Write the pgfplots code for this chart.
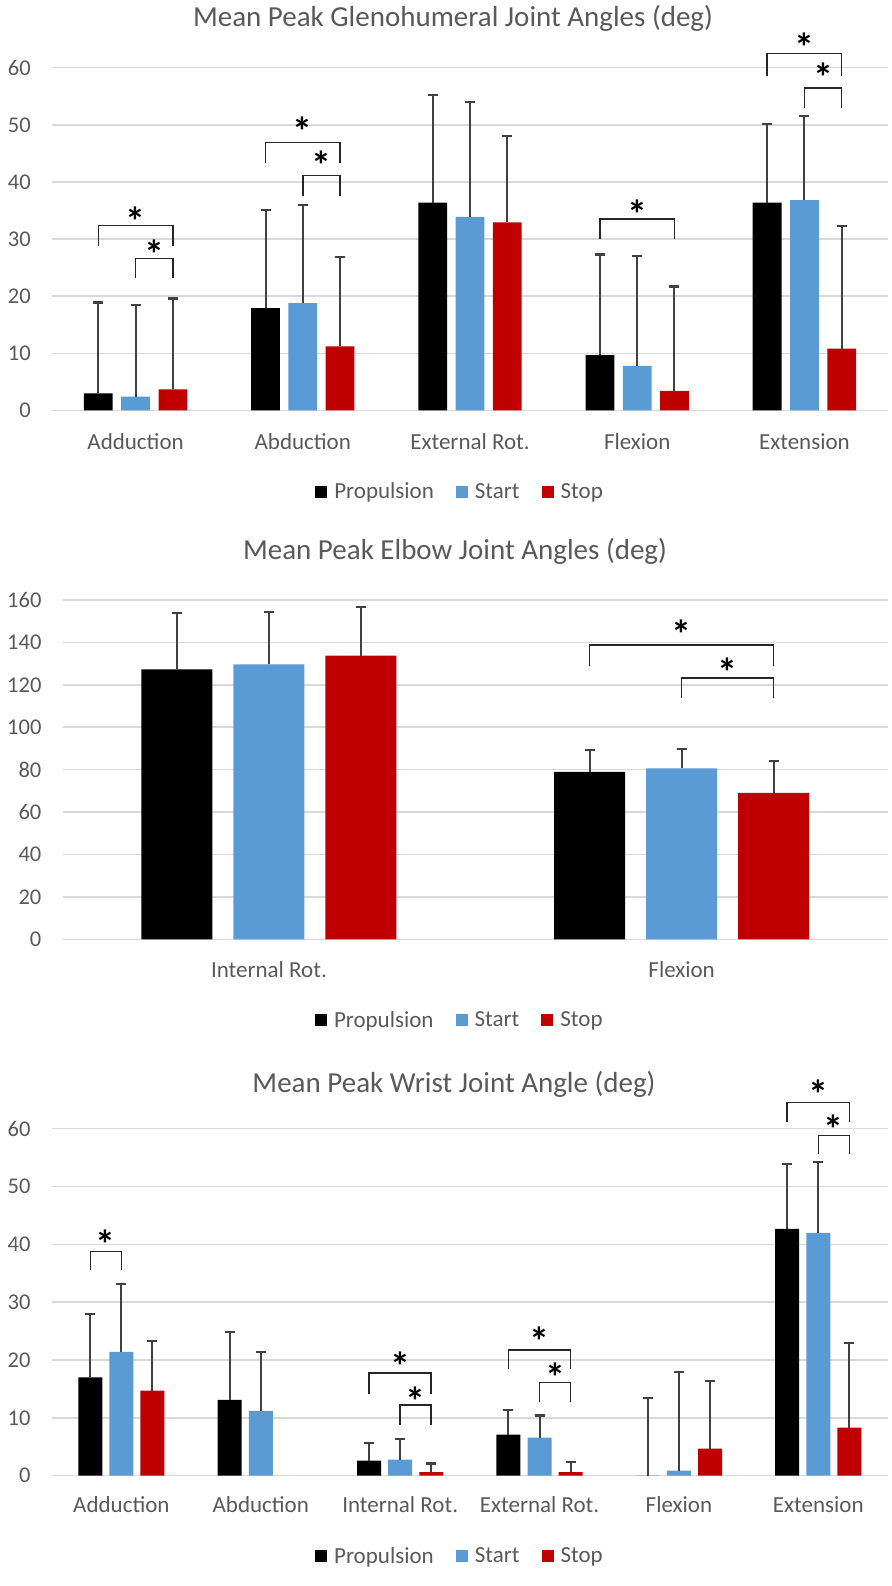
\documentclass[border=0pt]{standalone}
\usepackage{fontspec}
\setmainfont{Carlito}
\usepackage{pgfplots}
\pgfplotsset{compat=1.18}
\definecolor{gridgray}{HTML}{D9D9D9}
\definecolor{textgray}{HTML}{595959}
\definecolor{errgray}{HTML}{404040}
\definecolor{brkgray}{HTML}{262626}
\definecolor{sblue}{HTML}{5B9BD5}
\definecolor{sred}{HTML}{C00000}
\tikzset{brkstyle/.style={draw=brkgray, line width=1.6pt},
  starstyle/.style={font=\bfseries\fontsize{40}{40}\selectfont, text=black, anchor=base, yshift=-20pt, inner sep=0pt}}
\newcommand{\brk}[6]{%
  \draw[brkstyle] (axis cs:#1,#5) -- (axis cs:#1,#4) -- (axis cs:#2,#4) -- (axis cs:#2,#5);
  \node[starstyle] at (axis cs:#3,#6) {*};}
\pgfplotsset{
  jointstyle/.style={
    scale only axis, clip=false, ymin=0,
    /pgf/number format/assume math mode=true,
    axis line style={draw=none},
    major tick length=0pt,
    ymajorgrids, grid style={gridgray, line width=1.5pt},
    tick label style={font=\fontsize{22.5}{26}\selectfont, text=textgray},
    yticklabel style={anchor=east, inner sep=0pt, xshift=-21pt},
    xticklabel style={anchor=base, inner sep=0pt, font=\fontsize{23}{27}\selectfont},
    ybar, bar width=0.172,
    error bars/y dir=plus, error bars/y explicit,
    error bars/error bar style={errgray, line width=2pt},
    error bars/error mark options={rotate=90, errgray, mark size=5pt, line width=2.2pt},
    legend columns=3,
    legend style={draw=none, fill=none, font=\fontsize{23}{27}\selectfont, text=textgray,
      anchor=center, inner sep=0pt, nodes={inner sep=0pt},
      /tikz/every odd column/.style={column sep=7pt},
      /tikz/every even column/.style={column sep=22pt}},
    legend image code/.code={\fill[#1] (0pt,-6pt) rectangle (12pt,6pt);},
  },
  pbar/.style={fill=black, draw=none, bar shift=-0.223},
  sbar/.style={fill=sblue, draw=none, bar shift=0},
  tbar/.style={fill=sred, draw=none, bar shift=0.223},
}
\begin{document}
\begin{tikzpicture}
\useasboundingbox (0,0) rectangle (891pt,-1586pt);
\tikzset{ttl/.style={font=\fontsize{29}{33}\selectfont, text=textgray}}
\node[ttl] at (453pt,-18pt) {Mean Peak Glenohumeral Joint Angles (deg)};
\node[ttl] at (455pt,-551pt) {Mean Peak Elbow Joint Angles (deg)};
\node[ttl] at (454pt,-1084pt) {Mean Peak Wrist Joint Angle (deg)};

% ---------------- Panel 1 ----------------
\begin{axis}[jointstyle,
  at={(52pt,-410.4pt)}, anchor=south west, width=836pt, height=342.7pt,
  xmin=-0.5, xmax=4.5, ymax=60, ytick={0,10,...,60},
  xtick={0,1,2,3,4}, xticklabels={Adduction,Abduction,External Rot.,Flexion,Extension},
  xticklabel style={yshift=-38.7pt},
  legend style={at={(0.487,-0.237)}}]
\addplot[pbar] coordinates {(0,3.0)+-(0,15.9) (1,17.9)+-(0,17.2) (2,36.4)+-(0,18.8) (3,9.7)+-(0,17.6) (4,36.4)+-(0,13.7)};
\addplot[sbar] coordinates {(0,2.4)+-(0,16.1) (1,18.8)+-(0,17.2) (2,33.9)+-(0,20.1) (3,7.8)+-(0,19.3) (4,36.8)+-(0,14.8)};
\addplot[tbar] coordinates {(0,3.7)+-(0,15.9) (1,11.2)+-(0,15.7) (2,32.9)+-(0,15.2) (3,3.4)+-(0,18.3) (4,10.8)+-(0,21.5)};
\legend{Propulsion,Start,Stop}
\brk{-0.223}{0.223}{0}{32.4}{28.7}{34.2}
\brk{0}{0.223}{0.112}{26.6}{23.1}{28.4}
\brk{0.777}{1.223}{1}{46.9}{43.3}{49.8}
\brk{1}{1.223}{1.112}{41.1}{37.6}{43.9}
\brk{2.777}{3.223}{3}{33.5}{30.0}{35.4}
\brk{3.777}{4.223}{4}{62.5}{58.6}{64.6}
\brk{4}{4.223}{4.112}{56.4}{53.0}{59.3}
\end{axis}

% ---------------- Panel 2 ----------------
\begin{axis}[jointstyle,
  at={(62.6pt,-939.3pt)}, anchor=south west, width=825.4pt, height=339.3pt,
  xmin=-0.5, xmax=1.5, ymax=160, ytick={0,20,...,160},
  xtick={0,1}, xticklabels={Internal Rot.,Flexion},
  xticklabel style={yshift=-38pt},
  legend style={at={(0.480,-0.238)}}]
\addplot[pbar] coordinates {(0,127.3)+-(0,26.6) (1,78.9)+-(0,10.2)};
\addplot[sbar] coordinates {(0,129.7)+-(0,24.8) (1,80.6)+-(0,9.0)};
\addplot[tbar] coordinates {(0,133.8)+-(0,22.9) (1,69.0)+-(0,14.9)};
\legend{Propulsion,Start,Stop}
\brk{0.777}{1.223}{1}{138.8}{128.9}{146.6}
\brk{1}{1.223}{1.112}{123.2}{113.6}{128.6}
\end{axis}

% ---------------- Panel 3 ----------------
\begin{axis}[jointstyle,
  at={(51.7pt,-1475.7pt)}, anchor=south west, width=836.3pt, height=347pt,
  xmin=-0.5, xmax=5.5, ymax=60, ytick={0,10,...,60},
  xtick={0,1,2,3,4,5}, xticklabels={Adduction,Abduction,Internal Rot.,External Rot.,Flexion,Extension},
  xticklabel style={yshift=-37pt},
  legend style={at={(0.487,-0.231)}}]
\addplot[pbar] coordinates {(0,17.0)+-(0,11.0) (1,13.1)+-(0,11.7) (2,2.6)+-(0,3.0) (3,7.1)+-(0,4.3) (4,0)+-(0,13.5) (5,42.7)+-(0,11.2)};
\addplot[sbar] coordinates {(0,21.4)+-(0,11.7) (1,11.2)+-(0,10.2) (2,2.8)+-(0,3.5) (3,6.6)+-(0,3.8) (4,0.9)+-(0,17.1) (5,42.0)+-(0,12.2)};
\addplot[tbar] coordinates {(0,14.7)+-(0,8.6) (2,0.6)+-(0,1.5) (3,0.6)+-(0,1.8) (4,4.7)+-(0,11.7) (5,8.3)+-(0,14.6)};
\legend{Propulsion,Start,Stop}
\brk{-0.223}{0}{-0.112}{38.8}{35.6}{41.0}
\brk{1.777}{2.223}{2}{17.8}{14.2}{20.0}
\brk{2}{2.223}{2.112}{12.2}{8.8}{13.8}
\brk{2.777}{3.223}{3}{21.7}{18.4}{24.2}
\brk{3}{3.223}{3.112}{16.1}{12.8}{18.1}
\brk{4.777}{5.223}{5}{64.55}{61.1}{67.0}
\brk{5}{5.223}{5.112}{58.8}{55.6}{60.9}
\end{axis}
\end{tikzpicture}
\end{document}
